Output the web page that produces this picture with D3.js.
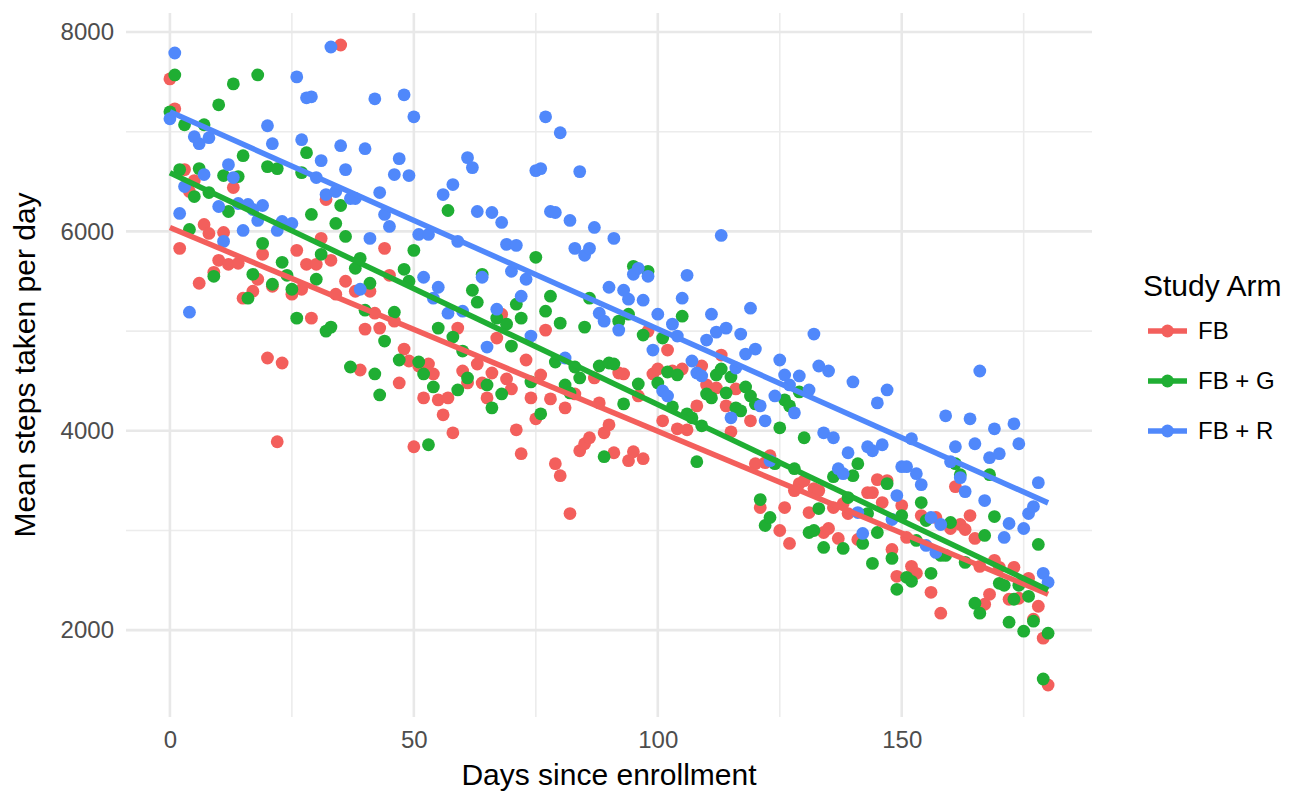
<!DOCTYPE html>
<html>
<head>
<meta charset="utf-8">
<script src="https://cdn.jsdelivr.net/npm/d3@7"></script>
<style>
  body { margin: 0; background: #fff; }
  svg { display: block; font-family: "Liberation Sans", Arial, Helvetica, sans-serif; }
</style>
</head>
<body>
<div id="chart"></div>
<script>
// [day, mean steps]
var fbPoints = [
  [0,7530],[1,7230],[2,5830],[3,6620],[4,6400],[5,6510],[6,5480],[7,6070],[8,5980],[9,5590],
  [10,5710],[11,5990],[12,5670],[13,6440],[14,5680],[15,5330],[17,5400],[18,5520],[19,5770],[20,4730],
  [21,5450],[22,3890],[23,4680],[25,5370],[26,5810],[27,5420],[28,5670],[29,5130],[30,5670],[31,5930],
  [32,6320],[33,5710],[34,5370],[35,7870],[36,5500],[38,5400],[39,4610],[40,5020],[41,5400],[42,5180],
  [43,5030],[44,5830],[45,5560],[46,5100],[47,4480],[48,4820],[49,4700],[50,3840],[51,4650],[52,4330],
  [53,4670],[54,4570],[55,4310],[56,4160],[57,4330],[58,3980],[59,5030],[60,4600],[61,4480],[63,4670],
  [64,4480],[65,4330],[66,4580],[67,4930],[68,5170],[69,4520],[70,4420],[71,4010],[72,3770],[73,4710],
  [74,4330],[75,4120],[76,4560],[77,5010],[78,4320],[79,3670],[80,3550],[81,4230],[82,3170],[83,4370],
  [84,3800],[85,3870],[86,3930],[87,4530],[88,4280],[89,3980],[90,4060],[91,3780],[92,4580],[93,4570],
  [94,3700],[95,3790],[96,4350],[97,3720],[98,5000],[99,4570],[100,4620],[101,4100],[102,4810],[103,4600],
  [104,4020],[105,4620],[106,4010],[108,4250],[109,4650],[110,4460],[112,4430],[113,4760],[114,4250],[115,3990],
  [116,4420],[119,4100],[120,3670],[121,3230],[122,3680],[123,3750],[125,3000],[126,3230],[127,2870],[128,3400],
  [129,3470],[130,3500],[131,3180],[132,3420],[133,3400],[134,2980],[135,3020],[136,3230],[137,2920],[138,3270],
  [139,3170],[141,2910],[143,3380],[144,3380],[145,3510],[146,3280],[147,3500],[148,2810],[149,2540],[150,3250],
  [151,2930],[152,2640],[153,2570],[154,3150],[156,2380],[157,3130],[158,2170],[160,3020],[161,3440],[162,3060],
  [163,3010],[164,3150],[165,2920],[166,2640],[167,2260],[168,2360],[169,2700],[170,2630],[172,2310],[173,2630],
  [174,2320],[176,2520],[177,2110],[178,2240],[179,1920],[180,1450]
];

var fbgPoints = [
  [0,7200],[1,7570],[2,6620],[3,7070],[4,6020],[5,6350],[6,6630],[7,7070],[8,6390],[9,5550],
  [10,7270],[11,6560],[12,6200],[13,7480],[14,6550],[15,6760],[16,5330],[17,5570],[18,7570],[19,5880],
  [20,6650],[21,5470],[22,6630],[23,5690],[24,5560],[25,5420],[26,5130],[27,6590],[28,6790],[29,6170],
  [30,5520],[31,5770],[32,5000],[33,5040],[34,6080],[35,6260],[36,5950],[37,4640],[38,5630],[39,5730],
  [40,5210],[41,5480],[42,4570],[43,4360],[44,4900],[46,5190],[47,4710],[48,5620],[49,5500],[50,5810],
  [51,4690],[52,4570],[53,3860],[54,4440],[55,5030],[57,6210],[58,4940],[59,4410],[60,4800],[61,4530],
  [62,5410],[63,5290],[64,5570],[65,4460],[66,4230],[67,5130],[68,4370],[69,5070],[70,4850],[71,5270],
  [72,5130],[74,4490],[75,5740],[76,4170],[77,5200],[78,5350],[79,4690],[80,5080],[81,4460],[82,4380],
  [83,4640],[84,4530],[85,5040],[86,5330],[88,4650],[89,3740],[90,4680],[91,4670],[92,5100],[93,4270],
  [94,5170],[95,5650],[96,4470],[97,4960],[98,5600],[100,4480],[101,4930],[102,4590],[103,4240],[104,4560],
  [105,5150],[106,4170],[107,4130],[108,3690],[109,4050],[110,4370],[111,4330],[112,4560],[113,4620],[114,4380],
  [115,4540],[116,4230],[117,4200],[118,4440],[119,4350],[120,4270],[121,3310],[122,3050],[123,3130],[124,3670],
  [125,4030],[126,4310],[127,4250],[128,3620],[129,4390],[130,3930],[131,2980],[132,3000],[133,3220],[134,2830],
  [136,3540],[138,2820],[139,3330],[140,3550],[141,3670],[142,2870],[143,3170],[144,2670],[145,2980],[147,3470],
  [148,2720],[149,2410],[150,3150],[151,2530],[152,2490],[153,2900],[154,3280],[155,3100],[156,2570],[158,2750],
  [159,2750],[160,3080],[161,3670],[162,3560],[163,2680],[165,2270],[166,2170],[167,2950],[168,3560],[169,3140],
  [170,2470],[171,2450],[172,2080],[173,2310],[174,2450],[175,1990],[176,2340],[177,2090],[178,2860],[179,1510],
  [180,1970]
];

var fbrPoints = [
  [0,7130],[1,7790],[2,6180],[3,6450],[4,5190],[5,6950],[6,6880],[7,6570],[8,6940],[10,6250],
  [11,5900],[12,6670],[13,6540],[14,6280],[15,6010],[16,6270],[17,6220],[18,6110],[19,6260],[20,7060],
  [21,6880],[22,6010],[23,6100],[25,6080],[26,7550],[27,6920],[28,7340],[29,7350],[30,6540],[31,6710],
  [32,6370],[33,7850],[34,6400],[35,6860],[36,6620],[37,6330],[38,6330],[39,5420],[40,6830],[41,5930],
  [42,7330],[43,6390],[44,6170],[45,6050],[46,6570],[47,6730],[48,7370],[49,6560],[50,7150],[51,5970],
  [52,5540],[53,5970],[54,5330],[55,5440],[56,6370],[57,5180],[58,6470],[59,5900],[60,5200],[61,6740],
  [62,6640],[63,6200],[64,5540],[65,4840],[66,6190],[67,5220],[68,6090],[69,5870],[70,5600],[71,5860],
  [72,5350],[73,5520],[74,4950],[75,6610],[76,6630],[77,7150],[78,6200],[79,6190],[80,6990],[81,4730],
  [82,6110],[83,5830],[84,6600],[85,5760],[86,5830],[87,6040],[88,5180],[89,5100],[90,5440],[91,5930],
  [92,5010],[93,5410],[94,5320],[95,5570],[96,5630],[97,5310],[98,5550],[99,4810],[100,5170],[101,4400],
  [102,4350],[103,5070],[104,4950],[105,5330],[106,5560],[107,4700],[108,4580],[109,4550],[110,4910],[111,5170],
  [112,4990],[113,5960],[114,5030],[115,4130],[116,4630],[117,4970],[118,4770],[119,5230],[120,4820],[121,4250],
  [122,4100],[123,3700],[124,4350],[125,4710],[126,4560],[127,4460],[128,4180],[129,4550],[131,4410],[132,4970],
  [133,4650],[134,3980],[135,4600],[136,3930],[137,3620],[138,3570],[139,3780],[140,4490],[141,3180],[142,2970],
  [143,3840],[144,3800],[145,4280],[146,3860],[147,4410],[148,3110],[149,3350],[150,3640],[151,3640],[152,3920],
  [153,3570],[154,3460],[155,2850],[156,3130],[157,2780],[158,3060],[159,4150],[160,3690],[161,3840],[162,3530],
  [163,3390],[164,4120],[165,3870],[166,4600],[167,3300],[168,3730],[169,4020],[170,3770],[171,2930],[172,3070],
  [173,4070],[174,3870],[175,3020],[176,3170],[177,3240],[178,3480],[179,2570],[180,2480]
];

var armNames = ['FB', 'FB + G', 'FB + R'];
var armColors = ['#F35F5C', '#1FAE33', '#5088FB'];
var xTicks = [0, 50, 100, 150];
var xMinor = [25, 75, 125, 175];
var yTicks = [2000, 4000, 6000, 8000];
var yMinor = [3000, 5000, 7000];

var arms = [fbPoints, fbgPoints, fbrPoints].map(function(pts, i) {
    return { name: armNames[i], color: armColors[i], values: pts };
});

var width = 1304, height = 792;
var panel = { left: 126, right: 1092, top: 13, bottom: 717 };

var all = d3.merge(arms.map(function(a) { return a.values; }));
var xExt = d3.extent(all, function(d) { return d[0]; });
var yExt = d3.extent(all, function(d) { return d[1]; });
var xPad = (xExt[1] - xExt[0]) * 0.05, yPad = (yExt[1] - yExt[0]) * 0.05;

var x = d3.scaleLinear().domain([xExt[0] - xPad, xExt[1] + xPad]).range([panel.left, panel.right]);
var y = d3.scaleLinear().domain([yExt[0] - yPad, yExt[1] + yPad]).range([panel.bottom, panel.top]);

// least squares fit like geom_smooth(method = "lm")
function fit(pts) {
    var mx = d3.mean(pts, function(d) { return d[0]; });
    var my = d3.mean(pts, function(d) { return d[1]; });
    var sxy = d3.sum(pts, function(d) { return (d[0] - mx) * (d[1] - my); });
    var sxx = d3.sum(pts, function(d) { return (d[0] - mx) * (d[0] - mx); });
    var b = sxy / sxx, a = my - b * mx;
    var ext = d3.extent(pts, function(d) { return d[0]; });
    return ext.map(function(t) { return [t, a + b * t]; });
}

var svg = d3.select('#chart').append('svg')
    .attr('width', width)
    .attr('height', height);

// grid
var grid = svg.append('g');
grid.selectAll('.xminor').data(xMinor).enter().append('line')
    .attr('x1', function(d) { return x(d); }).attr('x2', function(d) { return x(d); })
    .attr('y1', panel.top).attr('y2', panel.bottom)
    .attr('stroke', '#ececec').attr('stroke-width', 1.6);
grid.selectAll('.yminor').data(yMinor).enter().append('line')
    .attr('x1', panel.left).attr('x2', panel.right)
    .attr('y1', function(d) { return y(d); }).attr('y2', function(d) { return y(d); })
    .attr('stroke', '#ececec').attr('stroke-width', 1.6);
grid.selectAll('.xmajor').data(xTicks).enter().append('line')
    .attr('x1', function(d) { return x(d); }).attr('x2', function(d) { return x(d); })
    .attr('y1', panel.top).attr('y2', panel.bottom)
    .attr('stroke', '#e8e8e8').attr('stroke-width', 2.6);
grid.selectAll('.ymajor').data(yTicks).enter().append('line')
    .attr('x1', panel.left).attr('x2', panel.right)
    .attr('y1', function(d) { return y(d); }).attr('y2', function(d) { return y(d); })
    .attr('stroke', '#e8e8e8').attr('stroke-width', 2.6);

// axes (theme_minimal: labels only)
var xAxis = svg.append('g')
    .attr('transform', 'translate(0,' + (panel.bottom + 14) + ')')
    .call(d3.axisBottom(x).tickValues(xTicks).tickSize(0).tickPadding(0).tickFormat(d3.format('d')));
xAxis.select('.domain').remove();
xAxis.selectAll('text')
    .attr('dy', '0.71em')
    .attr('fill', '#4d4d4d')
    .style('font-size', '24px');

var yAxis = svg.append('g')
    .attr('transform', 'translate(' + (panel.left - 12) + ',0)')
    .call(d3.axisLeft(y).tickValues(yTicks).tickSize(0).tickPadding(0).tickFormat(d3.format('d')));
yAxis.select('.domain').remove();
yAxis.selectAll('text')
    .attr('fill', '#4d4d4d')
    .style('font-size', '24px');

svg.append('text')
    .attr('x', (panel.left + panel.right) / 2)
    .attr('y', 785)
    .attr('text-anchor', 'middle')
    .attr('fill', '#000')
    .style('font-size', '30px')
    .text('Days since enrollment');

svg.append('text')
    .attr('transform', 'translate(35,' + ((panel.top + panel.bottom) / 2) + ') rotate(-90)')
    .attr('text-anchor', 'middle')
    .attr('fill', '#000')
    .style('font-size', '30px')
    .text('Mean steps taken per day');

// points
var pts = svg.append('g');
arms.forEach(function(a) {
    pts.selectAll(null).data(a.values).enter().append('circle')
        .attr('cx', function(d) { return x(d[0]); })
        .attr('cy', function(d) { return y(d[1]); })
        .attr('r', 6.4)
        .attr('fill', a.color);
});

// fitted lines
var line = d3.line()
    .x(function(d) { return x(d[0]); })
    .y(function(d) { return y(d[1]); });
svg.append('g').selectAll('path').data(arms).enter().append('path')
    .attr('d', function(d) { return line(fit(d.values)); })
    .attr('fill', 'none')
    .attr('stroke', function(d) { return d.color; })
    .attr('stroke-width', 5.5);

// legend
var legend = svg.append('g').attr('transform', 'translate(1143,0)');
legend.append('text')
    .attr('x', 0).attr('y', 296)
    .attr('fill', '#000')
    .style('font-size', '30px')
    .text('Study Arm');
var key = legend.selectAll('.key').data(arms).enter().append('g')
    .attr('transform', function(d, i) { return 'translate(0,' + (331 + i * 50) + ')'; });
key.append('line')
    .attr('x1', 5).attr('x2', 44)
    .attr('stroke', function(d) { return d.color; })
    .attr('stroke-width', 5.5);
key.append('circle')
    .attr('cx', 24.5).attr('r', 6.4)
    .attr('fill', function(d) { return d.color; });
key.append('text')
    .attr('x', 55)
    .attr('dy', '0.35em')
    .attr('fill', '#000')
    .style('font-size', '24px')
    .text(function(d) { return d.name; });
</script>
</body>
</html>
